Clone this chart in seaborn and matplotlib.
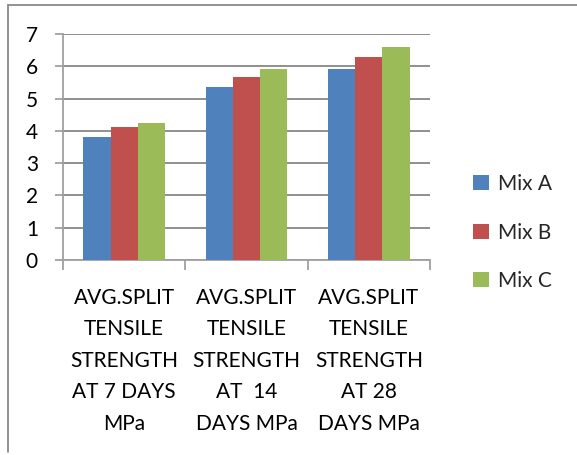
import matplotlib
matplotlib.use("Agg")
import matplotlib.pyplot as plt
from matplotlib.lines import Line2D
import seaborn as sns
import pandas as pd

categories = [
    "AVG.SPLIT\nTENSILE\nSTRENGTH\nAT 7 DAYS\nMPa",
    "AVG.SPLIT\nTENSILE\nSTRENGTH\nAT  14\nDAYS MPa",
    "AVG.SPLIT\nTENSILE\nSTRENGTH\nAT 28\nDAYS MPa",
]
series_names = ["Mix A", "Mix B", "Mix C"]
mix_a = [3.82, 5.36, 5.92]
mix_b = [4.12, 5.67, 6.29]
mix_c = [4.25, 5.92, 6.60]
y_ticks = [0, 1, 2, 3, 4, 5, 6, 7]

colors = ["#4F81BD", "#C0504D", "#9BBB59"]
grid_col = "#878787"

rows = []
for name, vals in zip(series_names, [mix_a, mix_b, mix_c]):
    for cat, v in zip(categories, vals):
        rows.append({"category": cat, "series": name, "value": v})
df = pd.DataFrame(rows)

sns.set_theme(style="white")
plt.rcParams["font.family"] = ["Lato", "DejaVu Sans"]

fig = plt.figure(figsize=(5.77, 4.55), dpi=100)
ax = fig.add_axes([63 / 577, 1 - 260 / 455, (430 - 63) / 577, (260 - 34) / 455])

sns.barplot(data=df, x="category", y="value", hue="series", palette=colors,
            width=0.67, saturation=1, ax=ax, zorder=3, edgecolor="none")

ax.set_ylim(0, 7)
ax.set_xlim(-0.5, 2.5)
ax.set_yticks(y_ticks)
ax.yaxis.grid(True, color=grid_col, linewidth=1.3, zorder=0)
ax.set_axisbelow(True)
ax.set_xlabel("")
ax.set_ylabel("")

for s in ["top", "right"]:
    ax.spines[s].set_visible(False)
for s in ["left", "bottom"]:
    ax.spines[s].set_color("#A0A0A0")
    ax.spines[s].set_linewidth(1.3)

ax.tick_params(axis="y", which="major", direction="out", length=6, width=1.3,
               color="#A0A0A0", pad=12, labelsize=15, labelcolor="black", left=True)
ax.set_xticks([0, 1, 2])
ax.set_xticklabels(categories, fontsize=15, linespacing=1.72)
ax.tick_params(axis="x", which="major", length=0, pad=20, labelcolor="black")
ax.set_xticks([-0.5, 0.5, 1.5, 2.5], minor=True)
ax.tick_params(axis="x", which="minor", direction="out", length=7, width=1.3,
               color="#A0A0A0", bottom=True)

leg = ax.legend(loc="upper left", bbox_to_anchor=(473 / 577, 1 - 174 / 455),
                bbox_transform=fig.transFigure, frameon=False, fontsize=15,
                handlelength=0.75, handleheight=0.75, handletextpad=0.45,
                labelspacing=1.37, borderaxespad=0, borderpad=0)

# outer chart border (top and left edges)
fig.add_artist(Line2D([8 / 577, 1.0], [1 - 5 / 455, 1 - 5 / 455],
                      transform=fig.transFigure, color="#8A8A8A", linewidth=1.3))
fig.add_artist(Line2D([8 / 577, 8 / 577], [1 - 5 / 455, 1 - 452 / 455],
                      transform=fig.transFigure, color="#8A8A8A", linewidth=1.3))

fig.savefig("out.png", dpi=100, facecolor="white")
